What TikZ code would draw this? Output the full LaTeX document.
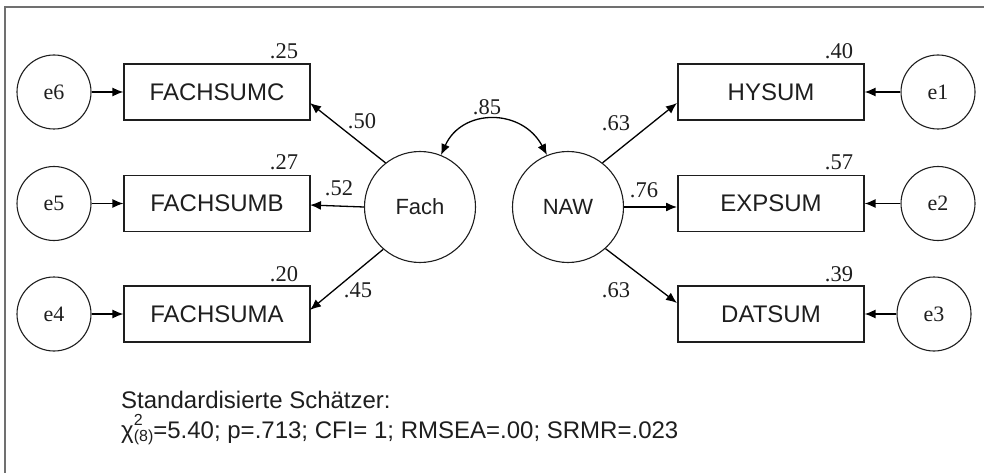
\documentclass[tikz,border=0pt]{standalone}
\usepackage{fontspec}
\setmainfont{Liberation Serif}
\setsansfont{Liberation Sans}
\usetikzlibrary{arrows.meta}
\definecolor{ink}{HTML}{1E1E1E}
\definecolor{framegray}{HTML}{707070}
\begin{document}
\begin{tikzpicture}[x=1pt,y=-1pt,
  obs/.style={draw=ink, line width=1.2pt, minimum width=186pt, minimum height=56pt, inner sep=0pt, text=ink, font=\sffamily\fontsize{24}{28}\selectfont},
  err/.style={circle, draw=ink, line width=1.1pt, minimum size=74pt, inner sep=0pt, text=ink, font=\fontsize{22}{26}\selectfont},
  lat/.style={circle, draw=ink, line width=1.1pt, minimum size=111pt, inner sep=0pt, text=ink, font=\sffamily\fontsize{22}{26}\selectfont},
  coef/.style={inner sep=0pt, text=ink, font=\fontsize{22.5}{26}\selectfont},
  arr/.style={draw=black, line width=1.3pt, -{Latex[length=11pt,width=9pt]}},
  dblarr/.style={draw=black, line width=1.3pt, {Latex[length=11pt,width=9pt]}-{Latex[length=11pt,width=9pt]}},
  note/.style={inner sep=0pt, anchor=base west, text=ink, font=\sffamily\fontsize{24}{28}\selectfont},
]
\useasboundingbox (0,0) rectangle (984,473);
\draw[framegray, line width=2pt] (5,473) -- (5,7) -- (984,7);

% observed variables
\node[obs] (FC) at (217,92) {FACHSUMC};
\node[obs] (FB) at (217,203.5) {FACHSUMB};
\node[obs] (FA) at (217,314) {FACHSUMA};
\node[obs] (HY) at (771,92) {HYSUM};
\node[obs] (EX) at (771,203.5) {EXPSUM};
\node[obs] (DA) at (771,314) {DATSUM};

% error terms
\node[err] (e6) at (54,92) {e6};
\node[err] (e5) at (54,203.5) {e5};
\node[err] (e4) at (54,314) {e4};
\node[err] (e1) at (938,92) {e1};
\node[err] (e2) at (938,203.5) {e2};
\node[err] (e3) at (934,314) {e3};

% latent variables
\node[lat] (Fach) at (420,207) {Fach};
\node[lat] (NAW) at (568,207) {NAW};

% target points on boxes
\coordinate (tFC) at (310,103);
\coordinate (tFB) at (310,205);
\coordinate (tFA) at (310,310);
\coordinate (tHY) at (677,103);
\coordinate (tEX) at (677,207);
\coordinate (tDA) at (677,303);

% error arrows
\draw[arr] (e6) -- (FC);
\draw[arr] (e5) -- (FB);
\draw[arr] (e4) -- (FA);
\draw[arr] (e1) -- (HY);
\draw[arr] (e2) -- (EX);
\draw[arr] (e3) -- (DA);

% loadings
\draw[arr] (Fach.128) -- (tFC);
\draw[arr] (Fach.west) -- (tFB);
\draw[arr] (Fach.229) -- (tFA);
\draw[arr] (NAW.52) -- (tHY);
\draw[arr] (NAW.east) -- (tEX);
\draw[arr] (NAW.-48) -- (tDA);

% correlation
\draw[dblarr] (Fach.68) .. controls (462,108) and (522,108) .. (NAW.112);

% coefficients
\node[coef] (c85) at (487,107) {.85};
\node[coef] (c50) at (362,121) {.50};
\node[coef] (c52) at (339,188) {.52};
\node[coef] (c45) at (358,290) {.45};
\node[coef] (c63a) at (616,123) {.63};
\node[coef] (c76) at (644,190) {.76};
\node[coef] (c63b) at (616,290) {.63};
\node[coef] (r25) at (284,51) {.25};
\node[coef] (r27) at (284,162) {.27};
\node[coef] (r20) at (284,274) {.20};
\node[coef] (r40) at (839,51) {.40};
\node[coef] (r57) at (839,162) {.57};
\node[coef] (r39) at (839,274) {.39};

% note
\node[note] (n1) at (121,408) {Standardisierte Schätzer:};
\node[note] (n2) at (121,438) {χ\rlap{\raisebox{13pt}{\fontsize{16}{16}\selectfont 2}}\raisebox{-3.5pt}{\fontsize{16}{16}\selectfont (8)}=5.40; p=.713; CFI= 1; RMSEA=.00; SRMR=.023};
\end{tikzpicture}
\end{document}
